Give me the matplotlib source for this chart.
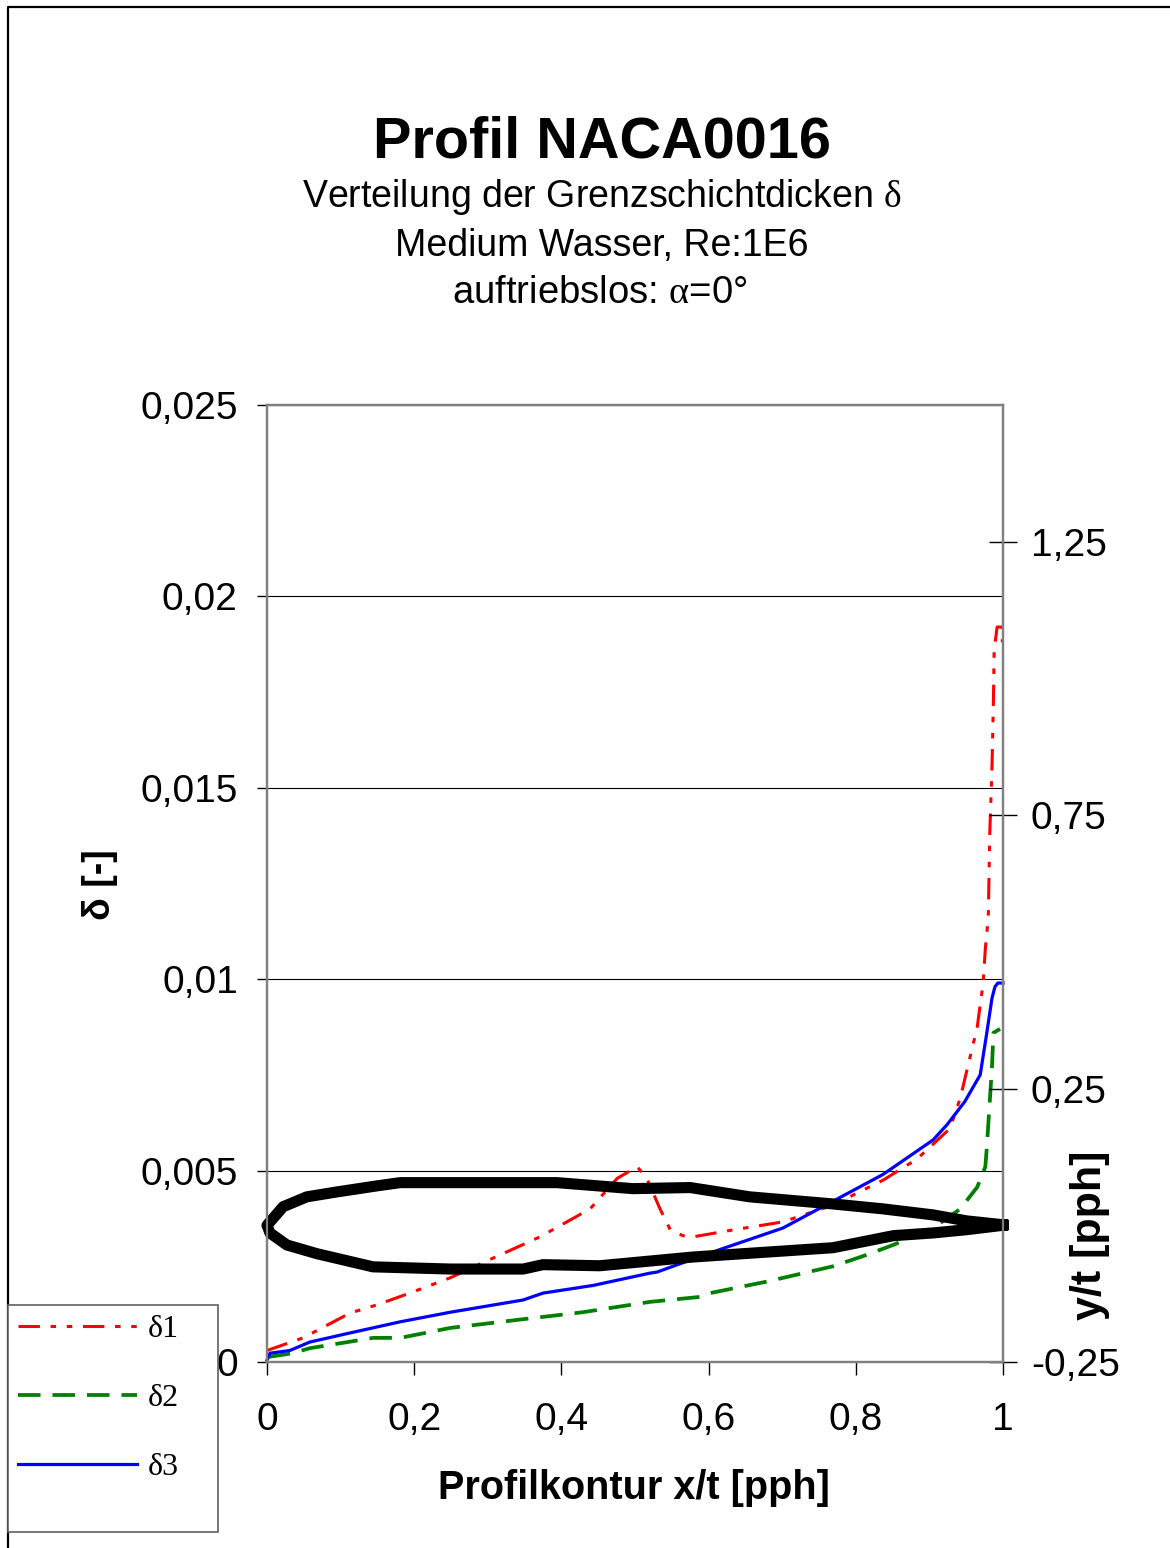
import matplotlib
matplotlib.use("Agg")
import matplotlib.pyplot as plt
from matplotlib.patches import Rectangle
from matplotlib.lines import Line2D
from matplotlib.ticker import FixedLocator, FuncFormatter

plt.rcParams["font.family"] = ["Liberation Sans", "DejaVu Sans"]
plt.rcParams["mathtext.fontset"] = "custom"
plt.rcParams["mathtext.rm"] = "Liberation Serif"
plt.rcParams["mathtext.it"] = "Liberation Serif"

# boundary layer thicknesses along the chord
x_d1 = [0.0, 0.049, 0.113, 0.149, 0.194, 0.249, 0.294, 0.371, 0.439, 0.476,
        0.503, 0.516, 0.534, 0.548, 0.565, 0.579, 0.633, 0.701, 0.769, 0.837,
        0.883, 0.928, 0.942, 0.965, 0.973, 0.976, 0.980, 0.982, 0.985, 0.987,
        0.988, 0.992, 0.999, 0.999]
d1 = [0.0003, 0.00063, 0.00128, 0.00149, 0.0018, 0.0022, 0.0026, 0.00327, 0.0040, 0.0048,
      0.0051, 0.0048, 0.0040, 0.00345, 0.0033, 0.00327, 0.00345, 0.00366, 0.0041, 0.00475,
      0.0053, 0.0061, 0.0069, 0.00875, 0.0099, 0.0108, 0.0116, 0.0138, 0.0155, 0.0173,
      0.0186, 0.0192, 0.0192, 0.0188]

x_d2 = [0.001, 0.035, 0.058, 0.103, 0.144, 0.181, 0.249, 0.340, 0.429, 0.520,
        0.588, 0.602, 0.679, 0.769, 0.815, 0.851, 0.905, 0.942, 0.965, 0.976,
        0.978, 0.982, 0.985, 0.987, 0.996]
d2 = [0.00013, 0.00023, 0.00036, 0.0005, 0.00063, 0.00063, 0.00089, 0.0011, 0.0013, 0.00157,
      0.0017, 0.0018, 0.0021, 0.0025, 0.0028, 0.00306, 0.0035, 0.0040, 0.00457, 0.0051,
      0.0056, 0.0068, 0.0077, 0.0086, 0.0087]

x_d3 = [0.0, 0.004, 0.031, 0.058, 0.113, 0.181, 0.249, 0.348, 0.375, 0.443,
        0.520, 0.530, 0.602, 0.701, 0.769, 0.837, 0.905, 0.924, 0.948, 0.969,
        0.978, 0.985, 0.989, 0.993, 1.0]
d3 = [0.00005, 0.00023, 0.0003, 0.00052, 0.00076, 0.00105, 0.0013, 0.00162, 0.0018, 0.002,
      0.00232, 0.00235, 0.00285, 0.0035, 0.0042, 0.0049, 0.0058, 0.0062, 0.0068, 0.0075,
      0.0086, 0.0095, 0.0098, 0.0099, 0.0099]

# NACA0016 contour (right axis)
x_upper = [1.0, 0.951, 0.905, 0.837, 0.769, 0.656, 0.575, 0.497, 0.394, 0.181,
           0.149, 0.095, 0.054, 0.022, 0.0]
y_upper = [0.001, 0.008, 0.019, 0.030, 0.039, 0.052, 0.069, 0.067, 0.078, 0.078,
           0.072, 0.061, 0.052, 0.034, 0.0]
x_lower = [0.0, 0.004, 0.027, 0.068, 0.144, 0.249, 0.348, 0.375, 0.452, 0.579,
           0.769, 0.851, 0.905, 0.951, 1.0]
y_lower = [0.0, -0.014, -0.036, -0.052, -0.076, -0.080, -0.080, -0.072, -0.074, -0.058,
           -0.041, -0.019, -0.014, -0.008, 0.0]

labels = ["δ1", "δ2", "δ3"]
x_ticks = [0, 0.2, 0.4, 0.6, 0.8, 1.0]
d_ticks = [0, 0.005, 0.01, 0.015, 0.02, 0.025]
yt_ticks = [-0.25, 0.25, 0.75, 1.25]

W, H = 1170, 1548
fig = plt.figure(figsize=(W / 100, H / 100), dpi=100)
ax = fig.add_axes([267 / W, (H - 1362) / H, (1003 - 267) / W, (1362 - 405) / H])


def comma(v, _pos=None):
    s = f"{v:g}"
    return s.replace(".", ",")


l1, = ax.plot(x_d1, d1, color="red", lw=2.2, dashes=(7, 3.5, 1.8, 3.5, 1.8, 3.5))
l2, = ax.plot(x_d2, d2, color="green", lw=2.7, dashes=(6, 3.2))
l3, = ax.plot(x_d3, d3, color="blue", lw=2.3)
for ln in (l1, l2, l3):
    ln.set_clip_on(False)

ax.set_xlim(0, 1)
ax.set_ylim(0, 0.025)
ax.xaxis.set_major_locator(FixedLocator(x_ticks))
ax.yaxis.set_major_locator(FixedLocator(d_ticks))
ax.xaxis.set_major_formatter(FuncFormatter(comma))
ax.yaxis.set_major_formatter(FuncFormatter(comma))
ax.grid(axis="y", color="black", lw=0.8)
ax.set_axisbelow(True)
ax.tick_params(axis="x", direction="out", length=9, width=1, pad=20, labelsize=28)
ax.tick_params(axis="y", direction="out", length=7, width=1, pad=14, labelsize=28)
for sp in ax.spines.values():
    sp.set_color("#808080")
    sp.set_linewidth(1.6)

ax2 = ax.twinx()
ax2.plot(x_upper + x_lower, y_upper + y_lower, color="black", lw=8,
         solid_capstyle="projecting", clip_on=False)
ax2.set_ylim(-0.25, 1.5)
ax2.yaxis.set_major_locator(FixedLocator(yt_ticks))
ax2.yaxis.set_major_formatter(FuncFormatter(comma))
ax2.tick_params(axis="y", direction="inout", length=20, width=1, pad=10, labelsize=28)
for sp in ax2.spines.values():
    sp.set_color("#808080")
    sp.set_linewidth(1.6)

# titles
fig.text(602 / W, 1 - 157 / H, "Profil NACA0016", ha="center", va="baseline",
         fontsize=41.5, fontweight="bold")
fig.text(602 / W, 1 - 207 / H, "Verteilung der Grenzschichtdicken $\\delta$",
         ha="center", va="baseline", fontsize=27)
fig.text(602 / W, 1 - 256 / H, "Medium Wasser, Re:1E6", ha="center", va="baseline",
         fontsize=27)
fig.text(600 / W, 1 - 303 / H, "auftriebslos: $\\alpha$=0°", ha="center", va="baseline",
         fontsize=27.5)

# axis titles
fig.text(634 / W, 1 - 1488 / H, "Profilkontur x/t [pph]", ha="center", va="center",
         fontsize=28.5, fontweight="bold")
fig.text(100 / W, 1 - 885 / H, "δ [-]", ha="center", va="center", rotation=90,
         fontsize=27, fontweight="bold")
fig.text(1090 / W, 1 - 1235 / H, "y/t [pph]", ha="center", va="center", rotation=90,
         fontsize=31, fontweight="bold")

# legend box and entries
fig.add_artist(Rectangle((8 / W, 1 - 1532 / H), 210 / W, 227 / H, transform=fig.transFigure,
                         fill=True, facecolor="white", edgecolor="#606060", lw=1.2, zorder=5))
leg = fig.legend([l1, l2, l3], labels, loc="upper left",
                 bbox_to_anchor=(12 / W, 1 - 1308 / H), borderaxespad=0, frameon=False,
                 prop={"family": "Liberation Serif", "size": 23},
                 handlelength=3.7, handletextpad=0.35, labelspacing=1.25, borderpad=0.2)
leg.set_zorder(6)

# outer frame
fig.add_artist(Line2D([8 / W, 8 / W, 1.0], [0.0, 1 - 7 / H, 1 - 7 / H],
                      transform=fig.transFigure, color="black", lw=1.6))

fig.savefig("out.png", dpi=100)
